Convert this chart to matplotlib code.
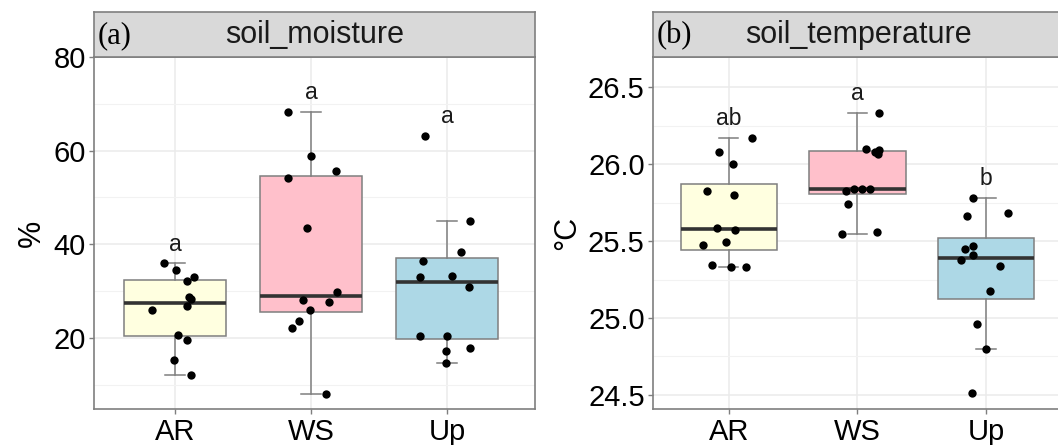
import matplotlib.pyplot as plt
from matplotlib.ticker import MultipleLocator

plt.rcParams['font.family'] = ['Liberation Sans', 'DejaVu Sans']

groups = ["AR", "WS", "Up"]
box_colors = ["#FFFFE0", "#FFC0CB", "#ADD8E6"]

# soil moisture (%), 12 plots per group
moist_AR = [35.9, 34.5, 33.1, 32.2, 28.8, 28.3, 26.8, 26.0, 20.7, 19.6, 15.3, 12.0]
moist_WS = [68.2, 58.8, 55.7, 54.1, 43.5, 29.7, 28.1, 27.7, 26.0, 23.7, 22.2, 8.0]
moist_Up = [63.2, 45.0, 38.4, 36.5, 33.1, 33.2, 30.8, 20.5, 20.3, 17.9, 17.1, 14.6]
moist_letters = ["a", "a", "a"]

# soil temperature (degC)
temp_AR = [26.167, 26.078, 26.002, 25.827, 25.801, 25.586, 25.573, 25.494, 25.474, 25.342, 25.329, 25.329]
temp_WS = [26.329, 26.095, 26.091, 26.080, 26.065, 25.827, 25.836, 25.836, 25.840, 25.740, 25.543, 25.560]
temp_Up = [25.781, 25.660, 25.684, 25.470, 25.446, 25.409, 25.374, 25.336, 25.175, 24.959, 24.797, 24.510]
temp_letters = ["ab", "a", "b"]

# horizontal jitter of the points
jit_moist = [
    [-0.08, 0.01, 0.14, 0.09, 0.10, 0.12, 0.09, -0.17, 0.02, 0.09, -0.01, 0.12],
    [-0.17, 0.00, 0.18, -0.17, -0.03, 0.19, -0.06, 0.13, -0.01, -0.09, -0.14, 0.11],
    [-0.16, 0.17, 0.10, -0.18, -0.20, 0.04, 0.16, -0.20, 0.00, 0.17, -0.01, -0.01],
]
jit_temp = [
    [0.18, -0.08, 0.03, -0.17, 0.04, -0.09, 0.05, -0.02, -0.20, -0.13, 0.02, 0.13],
    [0.17, 0.07, 0.17, 0.14, 0.16, -0.09, -0.03, 0.04, 0.10, -0.07, -0.12, 0.15],
    [-0.10, -0.15, 0.17, -0.10, -0.16, -0.10, -0.19, 0.11, 0.03, -0.07, 0.00, -0.11],
]

W, H = 1058, 445
fig = plt.figure(figsize=(W / 100, H / 100), dpi=100)

edge = "#7f7f7f"


def draw_panel(rect, series, jitter, letters, ylim, major, minor, xlim,
               tag, title, ylabel, ylab_x):
    left, top, right, bottom = rect
    ax = fig.add_axes([left / W, 1 - bottom / H, (right - left) / W, (bottom - top) / H])
    pos = [1, 2, 3]

    bp = ax.boxplot(series, positions=pos, widths=0.75, patch_artist=True,
                    showfliers=False, whis=1.5, capwidths=0.15,
                    medianprops=dict(color="#333333", lw=2.6),
                    whiskerprops=dict(color=edge, lw=1.1),
                    capprops=dict(color=edge, lw=1.1),
                    boxprops=dict(edgecolor=edge, lw=1.1), zorder=2)
    for patch, c in zip(bp["boxes"], box_colors):
        patch.set_facecolor(c)

    for p, vals, jit in zip(pos, series, jitter):
        ax.scatter([p + j for j in jit], vals, s=36, color="black", zorder=4, linewidths=0)

    span = ylim[1] - ylim[0]
    for p, vals, lab in zip(pos, series, letters):
        ax.text(p, max(vals) + 0.055 * span, lab, ha="center", va="center",
                fontsize=16.5, color="#1a1a1a", zorder=5)

    ax.set_xlim(*xlim)
    ax.set_ylim(*ylim)
    ax.yaxis.set_major_locator(MultipleLocator(major))
    ax.yaxis.set_minor_locator(MultipleLocator(minor))
    ax.set_xticks(pos)
    ax.set_xticklabels(groups)
    ax.grid(True, which="major", color="#ebebeb", lw=1.1, zorder=0)
    ax.grid(True, which="minor", axis="y", color="#f2f2f2", lw=0.8, zorder=0)
    ax.set_axisbelow(True)

    for s in ax.spines.values():
        s.set_color(edge)
        s.set_linewidth(1.2)
    ax.tick_params(axis="both", which="major", length=3.5, width=1.0, color=edge,
                   labelsize=21, labelcolor="black", pad=2.5)
    ax.tick_params(axis="x", pad=3)
    ax.tick_params(which="minor", length=0)

    # facet strip
    sax = fig.add_axes([left / W, 1 - top / H, (right - left) / W, 45 / H])
    sax.set_facecolor("#d9d9d9")
    sax.set_xticks([])
    sax.set_yticks([])
    for s in sax.spines.values():
        s.set_color(edge)
        s.set_linewidth(1.2)
    sax.text(0.5, 0.48, title, transform=sax.transAxes, ha="center", va="center",
             fontsize=22, color="#1a1a1a")
    sax.text(0.008, 0.48, tag, transform=sax.transAxes, ha="left", va="center",
             fontsize=22, family="Liberation Serif", color="black")

    fig.text(ylab_x / W, 1 - 233 / H, ylabel, rotation=90, ha="center", va="center",
             fontsize=22)
    return ax


draw_panel((94, 57, 535, 409), [moist_AR, moist_WS, moist_Up], jit_moist, moist_letters,
           (4.8, 80), 20, 10, (0.404, 3.647), "(a)", "soil_moisture", "%", 32)
draw_panel((653, 57, 1063, 409), [temp_AR, temp_WS, temp_Up], jit_temp, temp_letters,
           (24.409, 26.695), 0.5, 0.25, (0.41, 3.6), "(b)", "soil_temperature", "°C", 567)

fig.savefig("out.png", dpi=100)
